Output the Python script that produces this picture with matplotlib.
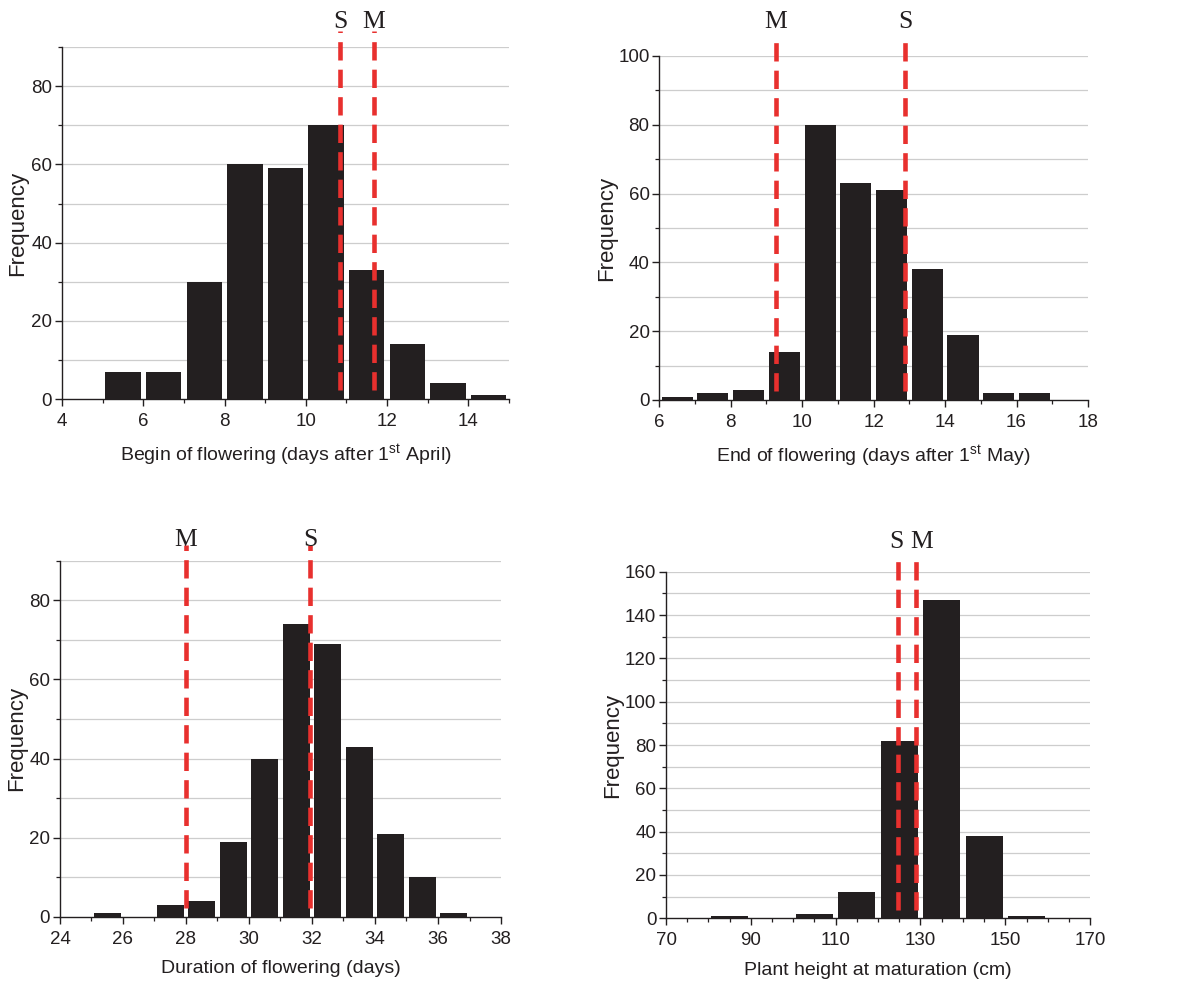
import matplotlib
matplotlib.use("Agg")
import matplotlib.pyplot as plt
from matplotlib.ticker import MultipleLocator
import matplotlib.transforms as mtransforms

plt.rcParams["font.family"] = ["Liberation Sans", "DejaVu Sans"]
plt.rcParams["mathtext.default"] = "regular"

INK = "#231f20"
RED = "#e8302e"
GRID = "#cdcdcd"

# begin of flowering (days after 1st April)
begin_left = [5, 6, 7, 8, 9, 10, 11, 12, 13, 14]
begin_freq = [7, 7, 30, 60, 59, 70, 33, 14, 4, 1]
begin_marks = ["S", "M"]
begin_mark_x = [10.85, 11.68]

# end of flowering (days after 1st May)
end_left = [6, 7, 8, 9, 10, 11, 12, 13, 14, 15, 16, 17]
end_freq = [1, 2, 3, 14, 80, 63, 61, 38, 19, 2, 2, 0]
end_marks = ["M", "S"]
end_mark_x = [9.26, 12.88]

# duration of flowering (days)
dur_left = [25, 26, 27, 28, 29, 30, 31, 32, 33, 34, 35, 36]
dur_freq = [1, 0, 3, 4, 19, 40, 74, 69, 43, 21, 10, 1]
dur_marks = ["M", "S"]
dur_mark_x = [28.0, 31.94]

# plant height at maturation (cm)
height_left = [80, 90, 100, 110, 120, 130, 140, 150, 160]
height_freq = [1, 0, 2, 12, 82, 147, 38, 1, 0]
height_marks = ["S", "M"]
height_mark_x = [124.6, 129.0]


def histogram(ax, left, freq, width, marks, mark_x, xlim, xmajor, xminor,
              ylim, ymajor, xlabel, label_y, ylabel_x, label_dx=(0, 0),
              xoffset=0):
    centers = [l + width / 2 for l in left]
    for y in range(10, ylim[1] + 1, 10):
        ax.axhline(y, color=GRID, lw=0.9, zorder=0)
    ax.bar(centers, freq, width=width * 0.87, color=INK, zorder=2)

    trans = mtransforms.blended_transform_factory(ax.transData, ax.transAxes)
    for name, x, dx in zip(marks, mark_x, label_dx):
        ax.plot([x, x], [0.025, 1.045], transform=trans, color=RED, lw=3.3,
                dashes=(4, 2), clip_on=False, zorder=3)
        shift = mtransforms.offset_copy(trans, fig=ax.figure, x=dx, units="points")
        ax.text(x, label_y, name, transform=shift, ha="center", va="center",
                fontsize=18.5, family=["Liberation Serif", "DejaVu Serif"],
                color=INK)

    ax.set_xlim(*xlim)
    ax.set_ylim(*ylim)
    ax.xaxis.set_major_locator(MultipleLocator(xmajor, offset=xoffset))
    ax.xaxis.set_minor_locator(MultipleLocator(xminor))
    ax.yaxis.set_major_locator(MultipleLocator(ymajor))
    ax.yaxis.set_minor_locator(MultipleLocator(ymajor / 2))

    for side in ("top", "right"):
        ax.spines[side].set_visible(False)
    for side in ("left", "bottom"):
        ax.spines[side].set_color(INK)
        ax.spines[side].set_linewidth(1.0)
    ax.tick_params(which="major", length=5, width=1.0, color=INK,
                   labelsize=13.5, labelcolor=INK)
    ax.tick_params(axis="y", which="major", pad=2)
    ax.tick_params(axis="x", which="major", pad=5)
    ax.tick_params(which="minor", length=3, width=0.9, color=INK)
    ax.set_xlabel(xlabel, fontsize=14, color=INK, labelpad=9)
    ax.set_ylabel("Frequency", fontsize=16, color=INK, va="center")
    ax.yaxis.set_label_coords(ylabel_x, 0.5)


fig = plt.figure(figsize=(11.78, 9.83), dpi=100)

ax1 = fig.add_axes([0.0526, 0.594, 0.3795, 0.358])
histogram(ax1, begin_left, begin_freq, 1, begin_marks, begin_mark_x,
          (4, 15), 2, 1, (0, 90), 20,
          "Begin of flowering (days after 1$^{st}$ April)", 1.071, -0.10)

ax2 = fig.add_axes([0.5597, 0.5931, 0.3639, 0.350])
histogram(ax2, end_left, end_freq, 1, end_marks, end_mark_x,
          (6, 18), 2, 1, (0, 100), 20,
          "End of flowering (days after 1$^{st}$ May)", 1.10, -0.124)

ax3 = fig.add_axes([0.0509, 0.0674, 0.3744, 0.3622])
histogram(ax3, dur_left, dur_freq, 1, dur_marks, dur_mark_x,
          (24, 38), 2, 1, (0, 90), 20,
          "Duration of flowering (days)", 1.058, -0.098)

ax4 = fig.add_axes([0.5654, 0.0658, 0.36, 0.3526])
histogram(ax4, height_left, height_freq, 10, height_marks, height_mark_x,
          (70, 170), 20, 5, (0, 160), 20,
          "Plant height at maturation (cm)", 1.087, -0.125,
          label_dx=(-1, 4), xoffset=10)

fig.savefig("out.png", dpi=100, facecolor="white")
